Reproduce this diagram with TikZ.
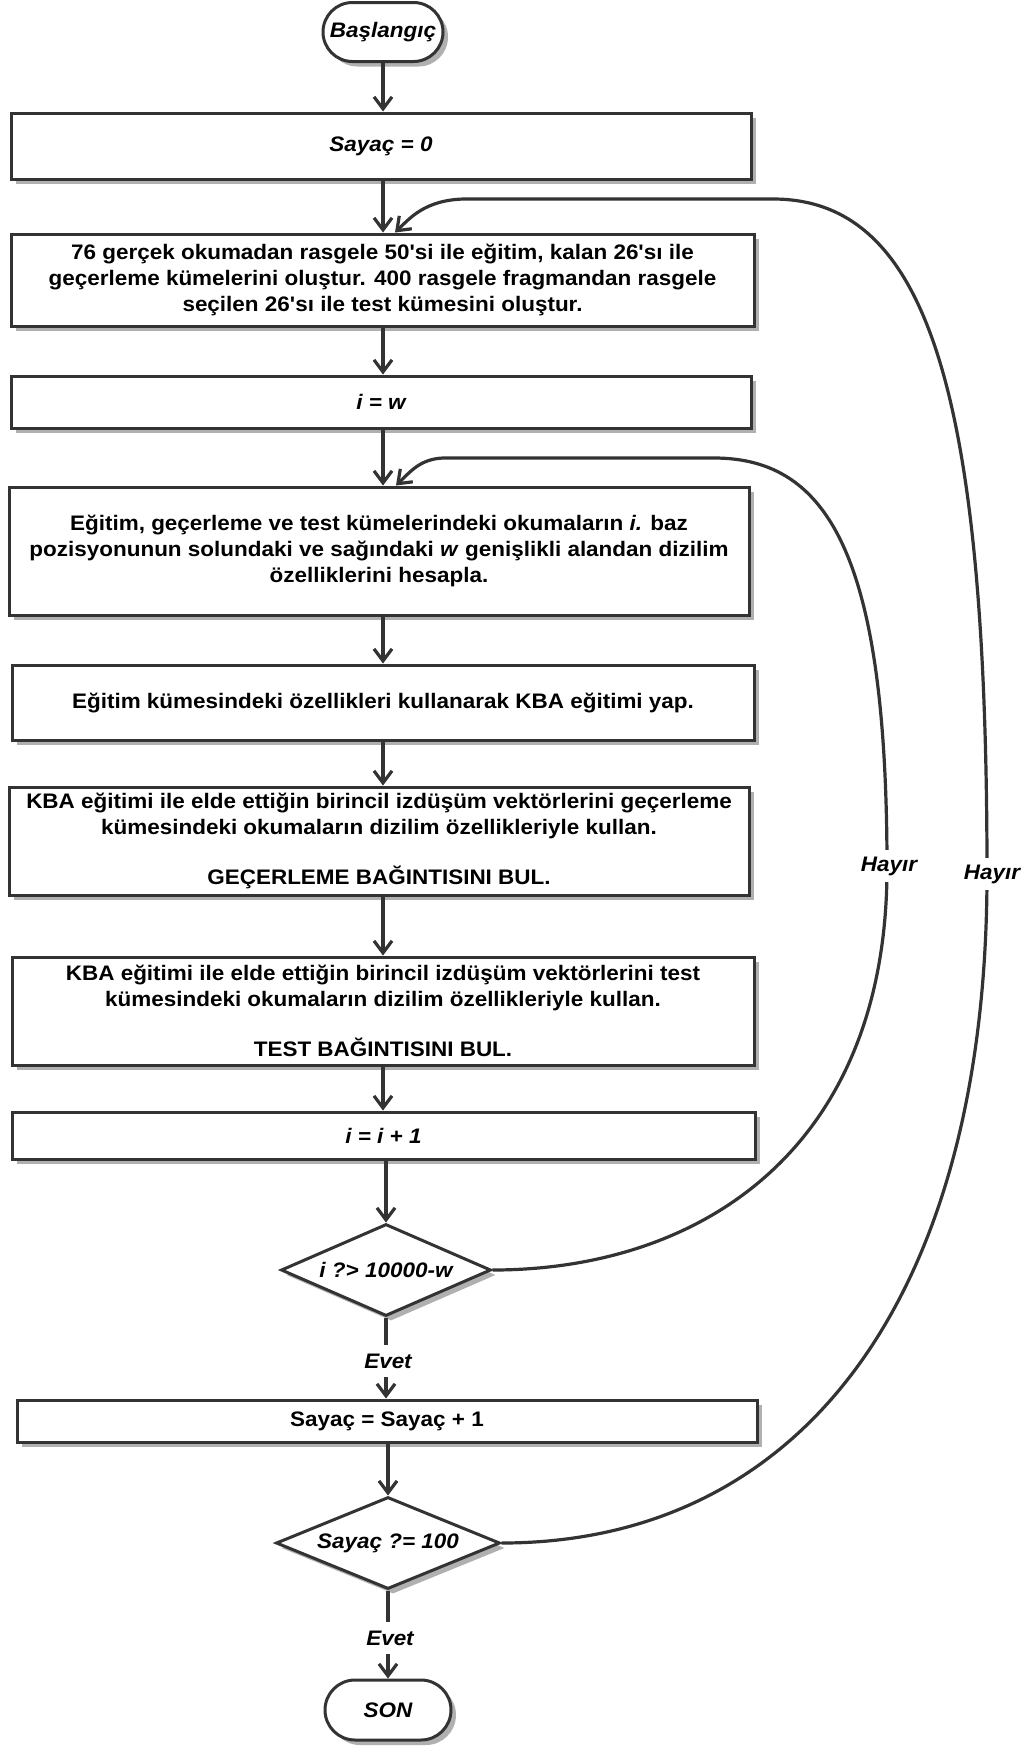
\documentclass[tikz,border=0pt]{standalone}
\usepackage{fontspec}
\setmainfont{Liberation Sans}[Ligatures=TeXOff, FakeStretch=1.07]
\usetikzlibrary{shapes.geometric, shapes.misc, shadows, arrows.meta, calc}
\definecolor{ln}{HTML}{333333}
\definecolor{shd}{HTML}{B0B0B0}
\begin{document}
\begin{tikzpicture}[x=1pt, y=-1pt,
  tf/.style={font=\fontsize{21}{26}\selectfont\bfseries},
  ti/.style={font=\fontsize{21}{26}\selectfont\bfseries\itshape},
  shad/.style={drop shadow={shadow xshift=5pt, shadow yshift=-5pt, fill=shd, opacity=1}},
  box/.style={draw=ln, line width=3pt, fill=white, rectangle, align=center, inner sep=4pt, shad, tf},
  term/.style={draw=ln, line width=3pt, fill=white, rounded rectangle, minimum width=124pt, minimum height=59pt, inner sep=2pt, shad, ti},
  dia/.style={draw=ln, line width=3pt, fill=white, diamond, aspect=2.3, inner sep=0pt, minimum height=92pt, shad, ti},
  lab/.style={ti, inner sep=0pt, minimum height=32pt},
  hlab/.style={ti, fill=white, inner sep=3pt, minimum height=32pt},
  ln/.style={draw=ln, line width=3.2pt},
  arr/.style={draw=ln, line width=3.2pt, -{Straight Barb[length=12pt, width=18pt]}}
]
\fill[white] (0,0) rectangle (1033,1746);
\useasboundingbox (0,0) rectangle (1033,1746);

\node[term] (start) at (383,32) {Başlangıç};
\node[box, ti, minimum width=740pt, minimum height=66pt] (s0) at (381,146) {Sayaç = 0};
\node[box, minimum width=743pt, minimum height=92pt] (b2) at (382.5,280) {76 gerçek okumadan rasgele 50'si ile eğitim, kalan 26'sı ile\\ geçerleme kümelerini oluştur. 400 rasgele fragmandan rasgele\\ seçilen 26'sı ile test kümesini oluştur.};
\node[box, ti, minimum width=740pt, minimum height=52pt] (iw) at (381,402) {i = w};
\node[box, minimum width=740pt, minimum height=128pt] (e1) at (379,551) {Eğitim, geçerleme ve test kümelerindeki okumaların \textit{i.} baz\\ pozisyonunun solundaki ve sağındaki \textit{w} genişlikli alandan dizilim\\ özelliklerini hesapla.};
\node[box, minimum width=742pt, minimum height=75pt] (e2) at (383,702.5) {Eğitim kümesindeki özellikleri kullanarak KBA eğitimi yap.};
\node[box, minimum width=740pt, minimum height=108pt] (k1) at (379,841) {KBA eğitimi ile elde ettiğin birincil izdüşüm vektörlerini geçerleme\\ kümesindeki okumaların dizilim özellikleriyle kullan.\\[24pt] GEÇERLEME BAĞINTISINI BUL.};
\node[box, minimum width=742pt, minimum height=108pt] (k2) at (383,1011) {KBA eğitimi ile elde ettiğin birincil izdüşüm vektörlerini test\\ kümesindeki okumaların dizilim özellikleriyle kullan.\\[24pt] TEST BAĞINTISINI BUL.};
\node[box, ti, minimum width=743pt, minimum height=47pt] (ii) at (383.5,1135.5) {i = i + 1};
\node[dia, minimum width=210pt] (d1) at (386,1270) {i ?> 10000-w};
\node[lab] (ev1) at (388,1361) {Evet};
\node[box, minimum width=740pt, minimum height=42pt] (s1) at (387,1421) {Sayaç = Sayaç + 1};
\node[dia, minimum width=224pt] (d2) at (388,1543) {Sayaç ?= 100};
\node[lab] (ev2) at (390,1638) {Evet};
\node[term, minimum width=130pt, minimum height=60pt] (son) at (388,1710) {SON};

% main flow
\draw[arr] (start.south) -- (s0.north -| start);
\draw[arr] (s0.south -| start) -- (b2.north -| start);
\draw[arr] (b2.south -| start) -- (iw.north -| start);
\draw[arr] (iw.south -| start) -- (e1.north -| start);
\draw[arr] (e1.south -| start) -- (e2.north -| start);
\draw[arr] (e2.south -| start) -- (k1.north -| start);
\draw[arr] (k1.south -| start) -- (k2.north -| start);
\draw[arr] (k2.south -| start) -- (ii.north -| start);
\draw[arr] (ii.south -| d1) -- (d1.north);
\draw[ln] (d1.south) -- (ev1.north -| d1);
\draw[arr] (ev1.south -| d1) -- (s1.north -| d1);
\draw[arr] (s1.south -| d2) -- (d2.north);
\draw[ln] (d2.south) -- (ev2.north -| d2);
\draw[arr] (ev2.south -| d2) -- (son.north -| d2);

% loops
\draw[arr] (d1.east) .. controls (700,1270) and (887,1150) .. (887,868)
  .. controls (887,560) and (830,458) .. (714,458) -- (443,458)
  .. controls (420,459) and (410,472) .. ($(e1.north -| start)+(13,0)$);
\draw[arr] (d2.east) .. controls (800,1543) and (987,1300) .. (987,874)
  .. controls (987,400) and (930,199) .. (773,199) -- (464,199)
  .. controls (425,200) and (410,218) .. ($(b2.north -| start)+(12,0)$);

\node[hlab] (h1) at (889,866) {Hayır};
\node[hlab] (h2) at (992,874) {Hayır};
\end{tikzpicture}
\end{document}
